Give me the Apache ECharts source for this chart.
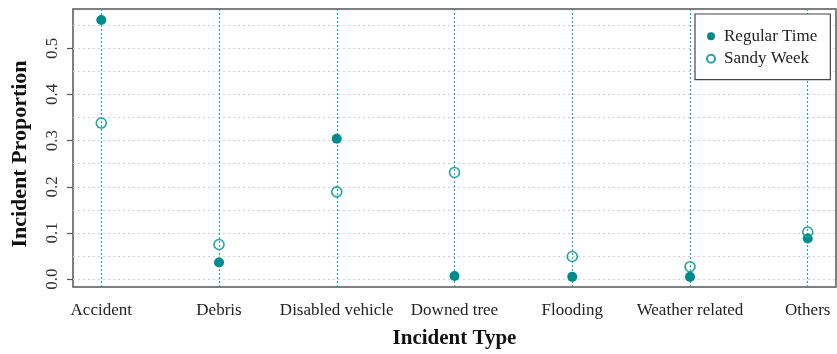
<!DOCTYPE html>
<html>
<head>
<meta charset="utf-8">
<script src="https://cdn.jsdelivr.net/npm/echarts@6/dist/echarts.min.js"></script>
<style>
  html, body { margin: 0; padding: 0; background: #fff; }
  #chart { width: 837px; height: 354px; }
</style>
</head>
<body>
<div id="chart"></div>
<script>
// Incident types along the x axis
const categories = ['Accident', 'Debris', 'Disabled vehicle', 'Downed tree', 'Flooding', 'Weather related', 'Others'];
// Share of incidents per type
const regularTime = [0.561, 0.036, 0.304, 0.007, 0.005, 0.005, 0.088];
const sandyWeek = [0.338, 0.075, 0.189, 0.231, 0.049, 0.027, 0.102];
// Labelled y ticks and the dotted horizontal guides
const yTicks = [0, 0.1, 0.2, 0.3, 0.4, 0.5];
const yGuides = [0, 0.05, 0.1, 0.15, 0.2, 0.25, 0.3, 0.35, 0.4, 0.45, 0.5, 0.55];

const serif = 'Liberation Serif, Times New Roman, serif';
const teal = '#008b8b';
const tealLight = '#26a3a3';

const xPos = categories.map((c, i) => i + 1);
const toPoints = vals => vals.map((v, i) => [xPos[i], v]);

const chart = echarts.init(document.getElementById('chart'), null, { renderer: 'canvas' });

chart.setOption({
  animation: false,
  backgroundColor: '#fff',
  grid: {
    show: true,
    left: 73, right: 1, top: 9, bottom: 64.5,
    borderColor: '#555', borderWidth: 1.5,
    backgroundColor: 'transparent'
  },
  legend: {
    orient: 'vertical',
    left: 695, top: 14,
    padding: [13.7, 13, 12.4, 11],
    itemWidth: 16, itemHeight: 8, itemGap: 5.6,
    borderColor: '#444', borderWidth: 1.2,
    backgroundColor: '#fff',
    textStyle: { fontFamily: serif, fontSize: 17, color: '#222', lineHeight: 16 },
    data: [
      { name: 'Regular Time', icon: 'circle' },
      { name: 'Sandy Week', icon: 'circle' }
    ]
  },
  xAxis: {
    type: 'value',
    min: 0.76, max: 7.24,
    axisLine: { show: false },
    axisTick: { show: false },
    splitLine: { show: false },
    axisLabel: {
      customValues: xPos,
      formatter: v => categories[Math.round(v) - 1],
      fontFamily: serif, fontSize: 17, color: '#222', margin: 15
    },
    name: 'Incident Type',
    nameLocation: 'middle',
    nameGap: 41,
    nameTextStyle: { fontFamily: serif, fontSize: 21, fontWeight: 'bold', color: '#111' }
  },
  yAxis: {
    type: 'value',
    min: -0.017, max: 0.585,
    axisLine: { show: false },
    axisTick: { show: true, length: 6, customValues: yTicks, lineStyle: { color: '#555', width: 1.2 } },
    splitLine: { show: false },
    axisLabel: {
      customValues: yTicks,
      rotate: 90,
      formatter: v => v.toFixed(1),
      fontFamily: serif, fontSize: 17, color: '#333', margin: 12
    },
    name: 'Incident Proportion',
    nameLocation: 'middle',
    nameGap: 42,
    nameTextStyle: { fontFamily: serif, fontSize: 22, fontWeight: 'bold', color: '#111', padding: [0, 12, 0, 0] }
  },
  series: [
    {
      name: 'Regular Time',
      type: 'scatter',
      z: 10,
      symbol: 'circle',
      symbolSize: 10,
      itemStyle: { color: teal, opacity: 1 },
      data: toPoints(regularTime),
      markLine: {
        silent: true,
        symbol: 'none',
        z: 1,
        label: { show: false },
        emphasis: { disabled: true },
        data: yGuides.map(v => ({ yAxis: v, lineStyle: { color: '#d0d0d0', type: [2, 3], width: 1 } }))
          .concat(xPos.map(x => ({ xAxis: x, lineStyle: { color: tealLight, type: [2, 2], width: 1.2 } })))
      }
    },
    {
      name: 'Sandy Week',
      type: 'scatter',
      z: 10,
      symbol: 'circle',
      symbolSize: 10,
      itemStyle: { color: 'rgba(255,255,255,0)', borderColor: tealLight, borderWidth: 1.6, opacity: 1 },
      data: toPoints(sandyWeek)
    }
  ]
});
</script>
</body>
</html>
